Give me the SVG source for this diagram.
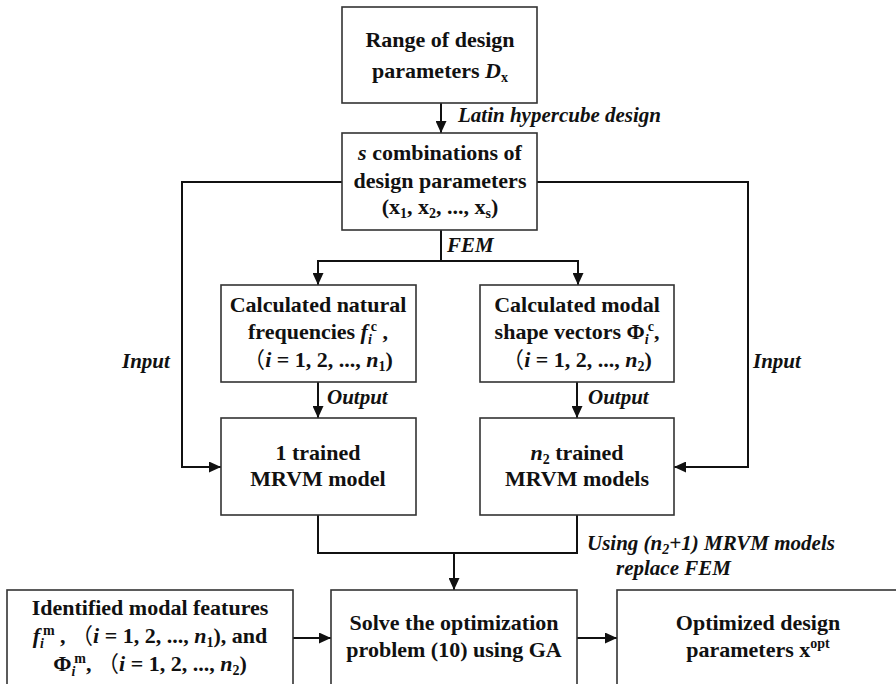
<svg xmlns="http://www.w3.org/2000/svg" width="896" height="684" viewBox="0 0 896 684">
<style>
.box{fill:#fff;stroke:#333;stroke-width:1.6}
.t{font-family:"Liberation Serif","Times New Roman",Tinos,"DejaVu Serif",serif;font-size:22px;font-weight:bold;fill:#111;text-anchor:middle}
.lbl{font-family:"Liberation Serif","Times New Roman",Tinos,"DejaVu Serif",serif;font-size:21px;font-weight:bold;font-style:italic;fill:#111}
.cjk{font-family:"Noto Sans CJK SC",sans-serif;font-weight:normal}
.i{font-style:italic}
.s{font-size:14px}
.c{stroke:#111;stroke-width:2;fill:none}
</style>
<defs>
<marker id="ah" markerUnits="userSpaceOnUse" markerWidth="12" markerHeight="11" refX="12" refY="5.5" orient="auto">
<path d="M0,0 L12,5.5 L0,11 z" fill="#111"/>
</marker>
</defs>
<g id="connectors">
<path class="c" d="M441,103 V133" marker-end="url(#ah)"/>
<path class="c" d="M342,182 H182 V467 H221" marker-end="url(#ah)"/>
<path class="c" d="M537,182 H748 V467 H674" marker-end="url(#ah)"/>
<path class="c" d="M441,230 V261"/>
<path class="c" d="M441,261 H318 V285" marker-end="url(#ah)"/>
<path class="c" d="M441,261 H578 V285" marker-end="url(#ah)"/>
<path class="c" d="M318,382 V418" marker-end="url(#ah)"/>
<path class="c" d="M577,382 V418" marker-end="url(#ah)"/>
<path class="c" d="M318,515 V553 H577 V515"/>
<path class="c" d="M454,553 V590" marker-end="url(#ah)"/>
<path class="c" d="M293,638 H331" marker-end="url(#ah)"/>
<path class="c" d="M577,638 H617" marker-end="url(#ah)"/>
<text class="lbl" x="458" y="122">Latin hypercube design</text>
<text class="lbl" x="447" y="252">FEM</text>
<text class="lbl" x="122" y="368">Input</text>
<text class="lbl" x="753" y="368">Input</text>
<text class="lbl" x="327" y="404">Output</text>
<text class="lbl" x="588" y="404">Output</text>
<text class="lbl" x="587" y="550">Using (n<tspan class="s" dy="4">2</tspan><tspan dy="-4">+1) MRVM models</tspan></text>
<text class="lbl" x="616" y="575">replace FEM</text>
</g>
<g id="range">
<rect class="box" x="342" y="7" width="195" height="96"/>
<text class="t" x="440" y="47">Range of design</text>
<text class="t" x="440" y="78">parameters <tspan class="i">D</tspan><tspan class="s" dy="4">x</tspan></text>
</g>
<g id="combinations">
<rect class="box" x="342" y="133" width="195" height="97"/>
<text class="t" x="440" y="160"><tspan class="i">s</tspan> combinations of</text>
<text class="t" x="440" y="188">design parameters</text>
<text class="t" x="440" y="214">(x<tspan class="s" dy="4">1</tspan><tspan dy="-4">, x</tspan><tspan class="s" dy="4">2</tspan><tspan dy="-4">, ..., x</tspan><tspan class="s" dy="4">s</tspan><tspan dy="-4">)</tspan></text>
</g>
<g id="freq">
<rect class="box" x="221" y="285" width="195" height="97"/>
<text class="t" x="318" y="312">Calculated natural</text>
<text class="t" x="318" y="339">frequencies <tspan class="i">f</tspan><tspan class="s i" dy="5">i</tspan><tspan class="s" dx="-1" dy="-13">c</tspan><tspan dy="8"> ,</tspan></text>
<text class="t" x="318" y="367"><tspan class="cjk">（</tspan><tspan class="i">i</tspan> = 1, 2, ..., <tspan class="i">n</tspan><tspan class="s" dy="4">1</tspan><tspan dy="-4">)</tspan></text>
</g>
<g id="shape">
<rect class="box" x="480" y="285" width="194" height="97"/>
<text class="t" x="577" y="312">Calculated modal</text>
<text class="t" x="577" y="339">shape vectors Φ<tspan class="s i" dy="5">i</tspan><tspan class="s" dx="-1" dy="-13">c</tspan><tspan dy="8">,</tspan></text>
<text class="t" x="577" y="367"><tspan class="cjk">（</tspan><tspan class="i">i</tspan> = 1, 2, ..., <tspan class="i">n</tspan><tspan class="s" dy="4">2</tspan><tspan dy="-4">)</tspan></text>
</g>
<g id="mrvm1">
<rect class="box" x="221" y="418" width="195" height="97"/>
<text class="t" x="318" y="460">1 trained</text>
<text class="t" x="318" y="486">MRVM model</text>
</g>
<g id="mrvm2">
<rect class="box" x="480" y="418" width="194" height="97"/>
<text class="t" x="577" y="460"><tspan class="i">n</tspan><tspan class="s" dy="4">2</tspan><tspan dy="-4"> trained</tspan></text>
<text class="t" x="577" y="486">MRVM models</text>
</g>
<g id="identified">
<rect class="box" x="7" y="590" width="286" height="100"/>
<text class="t" x="150" y="615">Identified modal features</text>
<text class="t" x="150" y="643"><tspan class="i">f</tspan><tspan class="s i" dy="5">i</tspan><tspan class="s" dx="-1" dy="-13">m</tspan><tspan dy="8"> , </tspan><tspan class="cjk">（</tspan><tspan class="i">i</tspan> = 1, 2, ..., <tspan class="i">n</tspan><tspan class="s" dy="4">1</tspan><tspan dy="-4">), and</tspan></text>
<text class="t" x="150" y="671">Φ<tspan class="s i" dy="5">i</tspan><tspan class="s" dx="-1" dy="-13">m</tspan><tspan dy="8">, </tspan><tspan class="cjk">（</tspan><tspan class="i">i</tspan> = 1, 2, ..., <tspan class="i">n</tspan><tspan class="s" dy="4">2</tspan><tspan dy="-4">)</tspan></text>
</g>
<g id="solve">
<rect class="box" x="331" y="590" width="246" height="100"/>
<text class="t" x="454" y="630">Solve the optimization</text>
<text class="t" x="454" y="657">problem (10) using GA</text>
</g>
<g id="optimized">
<rect class="box" x="617" y="590" width="290" height="100"/>
<text class="t" x="758" y="630">Optimized design</text>
<text class="t" x="758" y="657">parameters x<tspan class="s" dy="-9">opt</tspan></text>
</g>
</svg>
